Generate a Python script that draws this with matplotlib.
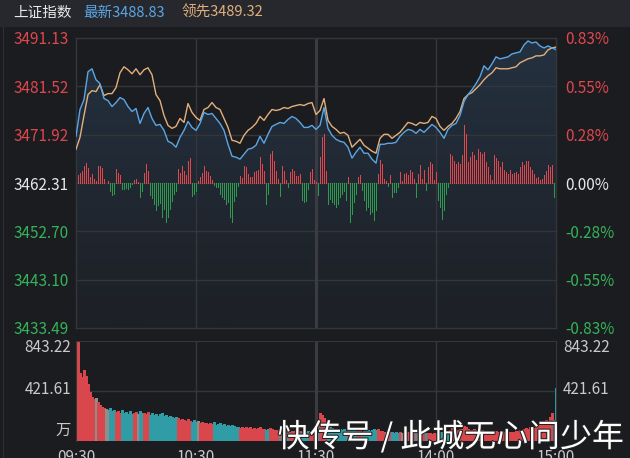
import numpy as np
import matplotlib
matplotlib.use('Agg')
import matplotlib.pyplot as plt
from matplotlib.patches import Rectangle, Polygon
from matplotlib.colors import LinearSegmentedColormap
import matplotlib.patheffects as pe

plt.rcParams['font.family'] = ['Noto Sans CJK SC', 'DejaVu Sans']

# ---------------- data ----------------
PREV_CLOSE = 3462.31
price_ticks = [3433.49, 3443.10, 3452.70, 3462.31, 3471.92, 3481.52, 3491.13]
pct_labels = ['-0.83%', '-0.55%', '-0.28%', '0.00%', '0.28%', '0.55%', '0.83%']
vol_ticks = [421.61, 843.22]
time_labels = ['09:30', '10:30', '11:30', '14:00', '15:00']
time_minutes = [0, 60, 120, 180, 240]

# minutes since 09:30 (trading minutes), sampled every 2 minutes
price_minutes = list(range(0, 241, 2))
latest = [
    3471.59, 3476.92, 3478.89, 3484.42, 3485.01, 3482.84, 3482.05, 3479.09, 3478.69, 3477.51,
    3478.30, 3479.29, 3478.89, 3477.51, 3476.52, 3477.12, 3474.15, 3476.13, 3477.31, 3475.14,
    3473.76, 3473.96, 3472.77, 3470.60, 3470.21, 3469.42, 3471.39, 3472.77, 3474.55, 3473.36,
    3472.77, 3474.15, 3476.33, 3475.93, 3476.13, 3475.14, 3474.15, 3472.77, 3470.01, 3467.64,
    3467.44, 3467.05, 3468.03, 3469.02, 3469.22, 3469.81, 3471.59, 3470.21, 3471.98, 3473.56,
    3473.96, 3474.35, 3474.15, 3474.94, 3475.54, 3475.14, 3474.35, 3473.36, 3473.36, 3473.76,
    3472.97, 3473.76, 3477.31, 3473.17, 3471.79, 3471.00, 3470.60, 3470.40, 3469.42, 3467.25,
    3468.43, 3469.42, 3468.23, 3468.23, 3467.05, 3466.26, 3470.01, 3470.01, 3470.21, 3470.21,
    3470.40, 3471.59, 3472.38, 3472.97, 3472.77, 3472.18, 3472.97, 3472.38, 3473.17, 3473.96,
    3473.36, 3472.38, 3471.19, 3472.97, 3473.76, 3474.15, 3475.73, 3478.50, 3479.88, 3480.87,
    3482.05, 3483.43, 3485.60, 3484.81, 3486.00, 3487.38, 3486.99, 3487.18, 3487.38, 3487.97,
    3488.17, 3488.37, 3489.75, 3490.54, 3490.14, 3490.34, 3489.55, 3489.16, 3489.55, 3489.16,
    3488.83]
leading = [
    3469.02, 3471.39, 3475.73, 3479.88, 3480.67, 3480.47, 3481.85, 3479.68, 3480.08, 3480.08,
    3481.26, 3484.22, 3485.41, 3484.81, 3484.02, 3485.01, 3483.83, 3484.81, 3485.21, 3483.83,
    3479.88, 3478.69, 3475.73, 3473.76, 3473.17, 3473.56, 3475.14, 3474.35, 3478.10, 3476.33,
    3475.34, 3474.75, 3476.92, 3477.31, 3478.30, 3477.31, 3476.92, 3475.14, 3473.36, 3470.80,
    3470.60, 3470.21, 3471.79, 3472.77, 3473.36, 3474.15, 3475.54, 3474.75, 3475.93, 3476.92,
    3476.72, 3476.92, 3477.31, 3477.12, 3477.51, 3477.71, 3477.90, 3477.71, 3478.10, 3478.30,
    3475.93, 3476.72, 3479.09, 3474.75, 3473.56, 3472.97, 3472.18, 3472.38, 3471.79, 3469.42,
    3470.21, 3471.00, 3469.81, 3469.22, 3468.63, 3468.23, 3471.19, 3471.98, 3471.98, 3471.19,
    3471.79, 3472.38, 3473.36, 3474.35, 3474.15, 3473.76, 3474.35, 3474.15, 3474.35, 3475.54,
    3475.14, 3473.56, 3472.77, 3473.56, 3474.15, 3475.14, 3476.52, 3479.09, 3479.88, 3480.27,
    3481.06, 3481.85, 3482.84, 3483.63, 3484.22, 3485.21, 3485.01, 3485.01, 3485.01, 3485.21,
    3485.41, 3486.20, 3486.59, 3486.99, 3487.18, 3487.58, 3487.58, 3487.77, 3488.76, 3489.16,
    3489.32]

# per-minute buy/sell strength bars (units of 0.1974 index points)
minutes = list(range(241))
strength = [
    3, 8, 10, 12, 17, 20, 15, 6, 9, 4,
    2, 17, 17, 15, 4, 0, 2, -8, -12, -11,
    14, 10, 8, -6, -6, -5, -6, -4, -1, 3,
    4, 1, -14, -8, 10, 19, 12, -12, -15, -21,
    -27, -22, -20, -34, -26, -39, -34, -26, -18, -11,
    -8, 14, 10, 17, 12, 8, 22, 25, -13, -11,
    -8, 2, 6, 10, 17, 12, 11, 7, 3, -2,
    -4, -4, -11, -14, -16, -21, -19, -34, -39, -18,
    -13, -3, 7, 5, 17, 16, 9, 6, 6, 11,
    12, 13, 26, 19, 12, -21, -11, 29, 32, 22,
    12, 4, -13, 17, 12, 3, -4, 11, 14, 12,
    7, 7, 9, -17, -19, -18, -6, 11, 14, 3,
    1, -12, 26, 46, 49, 12, -21, -16, -19, -21,
    -24, -21, -14, -11, -8, -17, 6, -39, -31, -19,
    -11, 6, 8, -7, -17, -27, -24, -31, -29, -37,
    -27, 9, 23, 19, 4, 2, -3, 8, -14, -9,
    -9, -4, 11, 2, 9, 10, 8, 13, 11, 4,
    -14, 9, 18, 4, 13, -7, 16, 21, 19, 3,
    11, -17, -24, -36, -27, -11, -4, 29, 27, 22,
    19, 21, 19, 28, 58, 49, 21, 26, 31, 28,
    23, 34, 31, 29, 31, 21, 16, 8, 3, 28,
    25, 22, 16, 21, 13, 11, 9, 13, 9, 10,
    11, 9, 16, 21, 18, 22, 22, 16, 13, 9,
    5, 6, 3, 4, 8, 12, 18, 16, 18, -14,
    -1]
STRENGTH_UNIT = 0.1974

# per-minute volume (万)
volume = [
    320, 843, 570, 540, 600, 545, 480, 415, 370, 350,
    360, 330, 305, 290, 280, 268, 262, 280, 255, 262,
    245, 250, 240, 262, 236, 245, 230, 250, 228, 240,
    245, 228, 255, 232, 240, 225, 245, 222, 236, 218,
    230, 214, 225, 236, 210, 220, 205, 215, 200, 195,
    205, 190, 180, 185, 175, 170, 182, 168, 160, 175,
    158, 165, 150, 160, 148, 155, 145, 152, 140, 158,
    138, 145, 150, 135, 142, 130, 138, 128, 135, 125,
    118, 122, 112, 120, 110, 115, 108, 118, 105, 112,
    100, 108, 115, 98, 105, 95, 102, 110, 98, 92,
    96, 88, 95, 90, 85, 92, 88, 80, 86, 82,
    90, 78, 85, 80, 88, 76, 82, 78, 75, 80,
    72, 180, 236, 220, 190, 150, 130, 120, 110, 100,
    105, 95, 100, 92, 98, 88, 105, 110, 95, 90,
    85, 88, 92, 80, 85, 90, 96, 88, 92, 100,
    95, 98, 88, 82, 78, 75, 80, 72, 76, 70,
    74, 68, 72, 70, 65, 68, 72, 66, 70, 64,
    68, 72, 66, 62, 68, 65, 70, 64, 60, 66,
    62, 70, 75, 80, 78, 72, 70, 95, 110, 100,
    96, 92, 98, 105, 130, 120, 100, 96, 92, 98,
    90, 95, 88, 92, 85, 80, 78, 75, 82, 88,
    85, 80, 76, 82, 78, 74, 72, 78, 76, 80,
    84, 88, 92, 96, 100, 110, 105, 115, 120, 110,
    125, 135, 150, 140, 165, 180, 160, 200, 236, 180,
    447]

# ---------------- styling ----------------
W, H = 630, 458
BG = '#1b1c20'
GRID = '#34363b'
RED = '#e0474d'
GREEN = '#35b35a'
BLUE = '#5aa6e6'
ORANGE = '#e2b07c'
TXT = '#c9c9c9'
PX = 72 / 100  # one pixel in points

fig = plt.figure(figsize=(W / 100, H / 100), dpi=100, facecolor=BG)

def fx(px):
    return px / W

def fy(py):
    return 1 - py / H

# header strip
fig.patches.append(Rectangle((0, fy(27)), 1, 27 / H, transform=fig.transFigure,
                             facecolor='#27282d', edgecolor='none', zorder=0))
fig.patches.append(Rectangle((fx(3), 0), 1 / W, fy(27), transform=fig.transFigure,
                             facecolor='#2e2f34', edgecolor='none', zorder=0))
fig.text(fx(13), fy(13), '上证指数', color='#e8e8e8', fontsize=10.5, va='center', ha='left')
fig.text(fx(83), fy(13), f'最新{latest[-1]:.2f}', color=BLUE, fontsize=10.5, va='center', ha='left')
fig.text(fx(182), fy(13), f'领先{leading[-1]:.2f}', color=ORANGE, fontsize=10.5, va='center', ha='left')

# ---------------- price panel ----------------
L, R = 76, 556   # 480 px -> exactly 2 px per trading minute
ax = fig.add_axes([fx(L), fy(328), (R - L) / W, (328 - 38) / H])
ax.set_facecolor(BG)
ymin, ymax = price_ticks[0], price_ticks[-1]
ax.set_xlim(0, 240)
ax.set_ylim(ymin, ymax)
for s in ax.spines.values():
    s.set_color(GRID)
    s.set_linewidth(1)

for p in price_ticks[1:-1]:
    ax.axhline(p, color=GRID, lw=1, zorder=1)
for m in (60, 180):
    ax.axvline(m, color=GRID, lw=1, zorder=1)
ax.axvline(120, color='#3a3c41', lw=2.2, zorder=1)

# gradient fill under latest price
verts = [(price_minutes[0], ymin)] + list(zip(price_minutes, latest)) + [(price_minutes[-1], ymin)]
poly = Polygon(verts, closed=True, facecolor='none', edgecolor='none')
ax.add_patch(poly)
cmap = LinearSegmentedColormap.from_list('fill', ['#1d2025', '#243140'])
grad = np.linspace(0, 1, 256).reshape(-1, 1)
im = ax.imshow(grad, extent=[0, 240, ymin, ymax], aspect='auto', cmap=cmap,
               origin='lower', zorder=0.5, interpolation='bilinear')
im.set_clip_path(poly)

# strength bars (crisp 1px sticks)
st = np.array(strength) * STRENGTH_UNIT
bar_cols = [RED if v >= 0 else '#2e9a4e' for v in st]
ax.vlines(minutes, PREV_CLOSE, PREV_CLOSE + st, colors=bar_cols, linewidth=1.0 * PX,
          antialiased=False, zorder=2)

ax.plot(price_minutes, leading, color=ORANGE, lw=1.0, zorder=4)
ax.plot(price_minutes, latest, color=BLUE, lw=1.0, zorder=5)

# tick labels
ax.set_yticks(price_ticks)
ax.set_yticklabels([f'{p:.2f}' for p in price_ticks], fontsize=11)
ax.tick_params(axis='y', length=0, pad=5)
ax.set_xticks([])
for lab, p in zip(ax.get_yticklabels(), price_ticks):
    lab.set_color(RED if p > PREV_CLOSE + 0.001 else (GREEN if p < PREV_CLOSE - 0.001 else '#e8e8e8'))

ax2 = ax.twinx()
ax2.set_ylim(ymin, ymax)
ax2.set_yticks(price_ticks)
ax2.set_yticklabels(pct_labels, fontsize=11)
ax2.tick_params(axis='y', length=0, pad=7)
for s in ax2.spines.values():
    s.set_visible(False)
for lab, p in zip(ax2.get_yticklabels(), price_ticks):
    lab.set_color(RED if p > PREV_CLOSE + 0.001 else (GREEN if p < PREV_CLOSE - 0.001 else '#e8e8e8'))

# ---------------- volume panel ----------------
axv = fig.add_axes([fx(L), fy(441), (R - L) / W, (441 - 341) / H])
axv.set_facecolor(BG)
axv.set_xlim(0, 240)
axv.set_ylim(0, vol_ticks[-1])
for s in axv.spines.values():
    s.set_color(GRID)
axv.spines['bottom'].set_visible(False)
axv.axhline(vol_ticks[0], color=GRID, lw=1, zorder=1)
for m in (60, 180):
    axv.axvline(m, color=GRID, lw=1, zorder=1)
axv.axvline(120, color='#3a3c41', lw=2.2, zorder=1)

vcols = []
for v in strength:
    if v > 2:
        vcols.append('#d9474d')
    elif v < 0:
        vcols.append('#2f9ca6')
    else:
        vcols.append('#8e8e8e')
axv.vlines(minutes, 0, volume, colors=vcols, linewidth=1.4 * PX,
           antialiased=False, zorder=2)
axv.set_xticks([])
axv.set_yticks([])

# volume labels
for txt, py in ((f'{vol_ticks[1]:.2f}', 348), (f'{vol_ticks[0]:.2f}', 390)):
    fig.text(fx(71), fy(py), txt, color=TXT, fontsize=11, ha='right', va='center')
    fig.text(fx(563), fy(py), txt, color=TXT, fontsize=11, ha='left', va='center')
fig.text(fx(71), fy(430), '万', color=TXT, fontsize=11, ha='right', va='center')

# time labels (partly below the bottom edge, as in the source screenshot)
for t, m in zip(time_labels, time_minutes):
    px = L + (R - L) * m / 240
    fig.text(fx(px), fy(449), t, color=TXT, fontsize=11, ha='center', va='top')

# watermark
fig.text(fx(451), fy(437), '快传号 / 此城无心问少年', color='white', fontsize=23,
         ha='center', va='center', zorder=10,
         path_effects=[pe.withStroke(linewidth=1.5, foreground='#222222')])

fig.savefig('out.png', dpi=100, facecolor=BG)
